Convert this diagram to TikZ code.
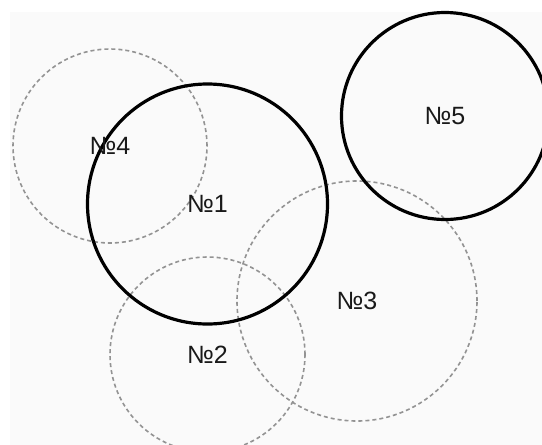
\documentclass[tikz,border=0pt]{standalone}
\usepackage{fontspec}
\setmainfont{Liberation Sans}
\begin{document}
\begin{tikzpicture}[x=1pt,y=-1pt,
  zone/.style={circle, inner sep=0pt},
  soft/.style={zone, draw=gray!85, line width=1.6pt, dash pattern=on 4pt off 3pt},
  hard/.style={zone, draw=black, line width=3.2pt},
  tag/.style={font=\fontsize{25}{25}\selectfont, text=black!90}]
  \useasboundingbox (0,0) rectangle (542,445);
  % faint paper background
  \fill[gray!4] (10,12) rectangle (542,445);
  % dashed zones
  \node[soft, minimum size=194pt] (z4) at (110,146) {};
  \node[soft, minimum size=195pt] (z2) at (207.5,354.5) {};
  \node[soft, minimum size=240pt] (z3) at (357,301) {};
  % solid zones
  \node[hard, minimum size=240pt] (z1) at (207.5,204) {};
  \node[hard, minimum size=207pt] (z5) at (445,116) {};
  % labels
  \node[tag] (t4) at (z4.center) {№4};
  \node[tag] (t2) at (z2.center) {№2};
  \node[tag] (t3) at (z3.center) {№3};
  \node[tag] (t1) at (z1.center) {№1};
  \node[tag] (t5) at (z5.center) {№5};
\end{tikzpicture}
\end{document}
